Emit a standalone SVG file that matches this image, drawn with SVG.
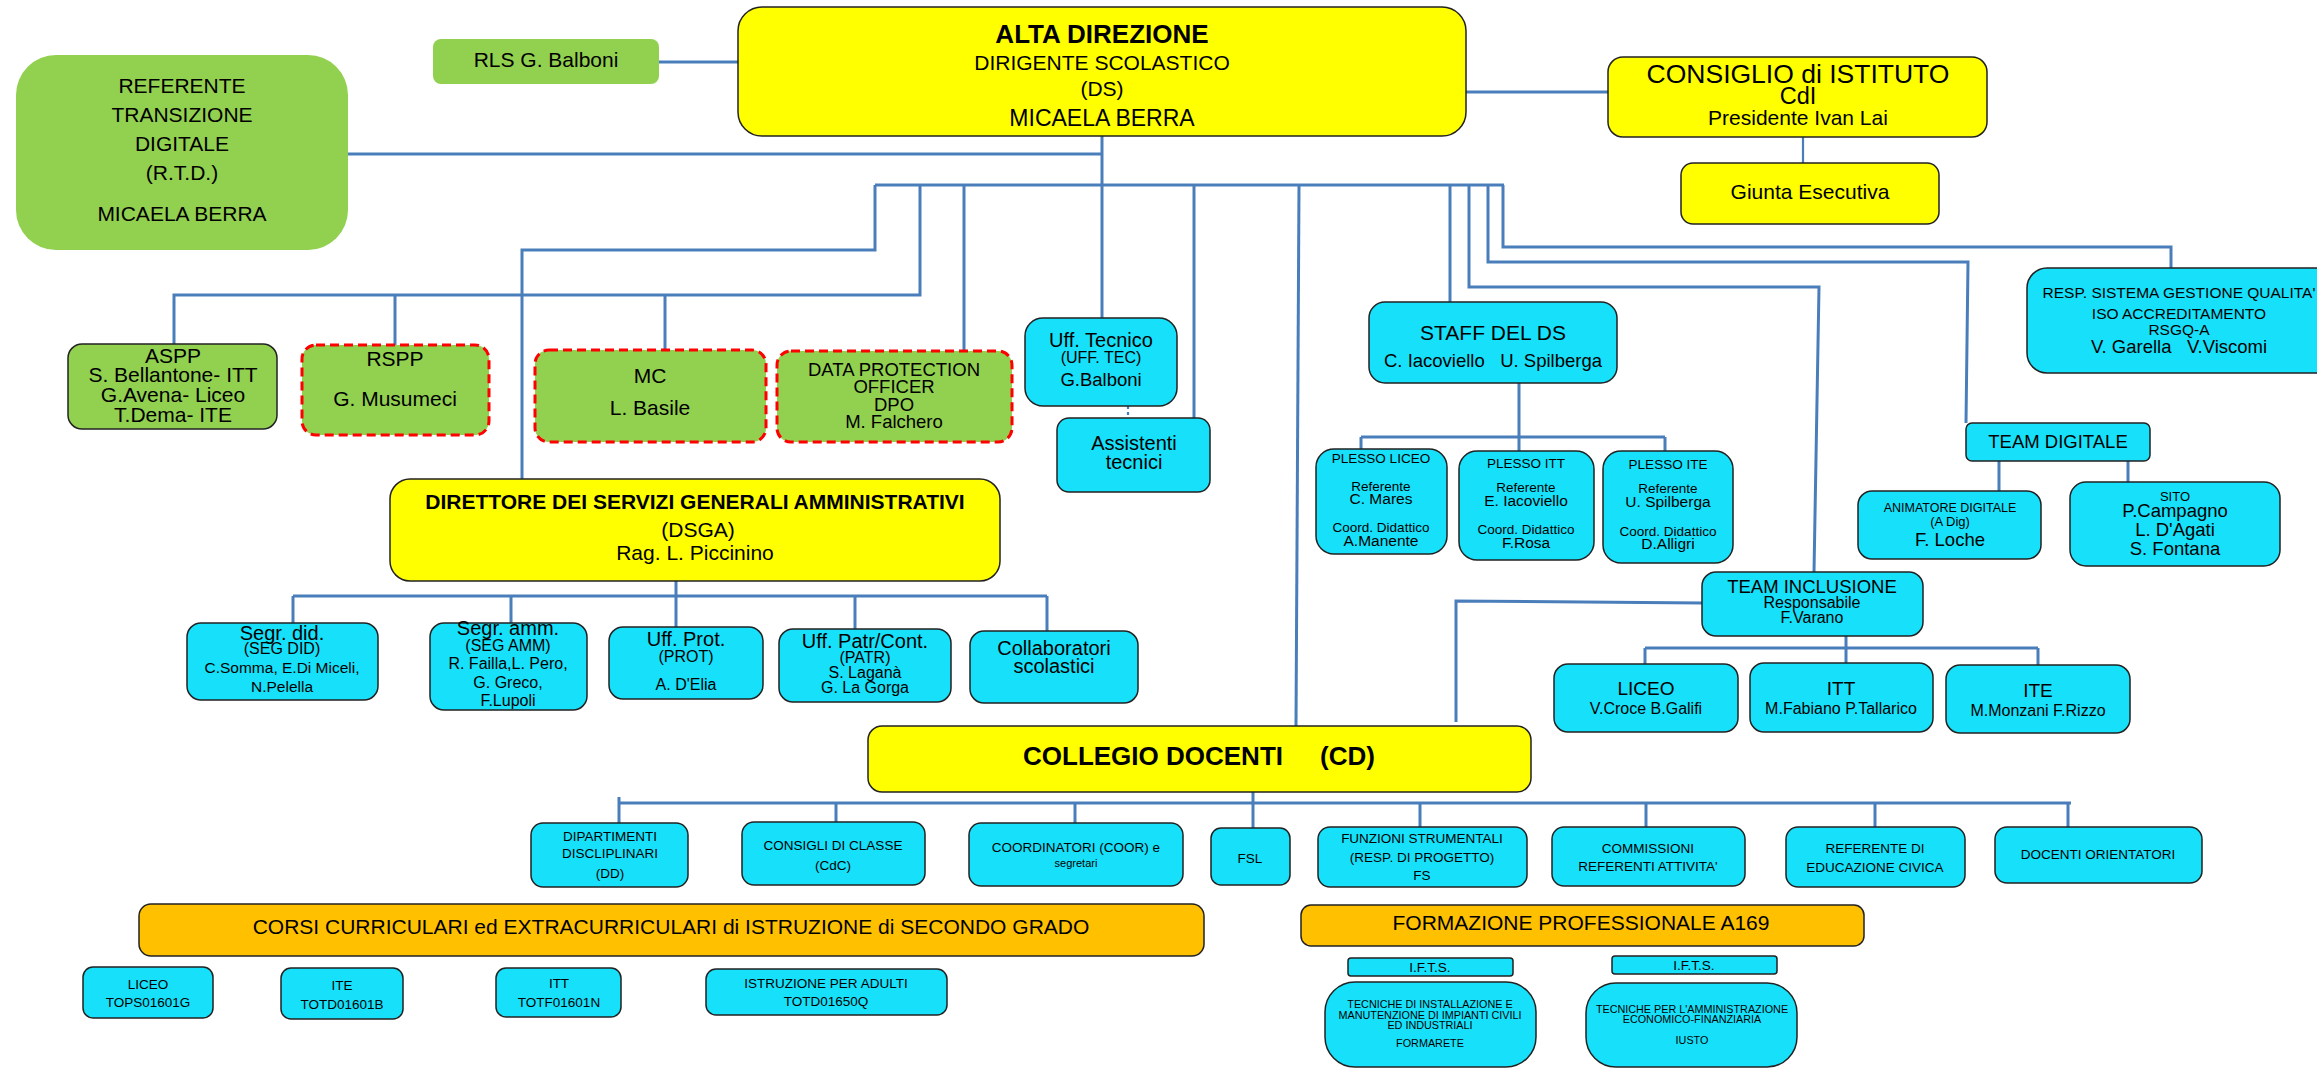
<svg xmlns="http://www.w3.org/2000/svg" width="2317" height="1068" viewBox="0 0 2317 1068">
<style>
text{font-family:'Liberation Sans',Arial,sans-serif;text-anchor:middle;fill:#000}
.b{font-weight:bold}
.bx{stroke:#222;stroke-width:1.5}
.y{fill:#FFFF00}
.g{fill:#92D050}
.c{fill:#16E0FA}
.o{fill:#FFC000}
.rd{stroke:#FF0000;stroke-width:3;stroke-dasharray:9 5}
.ln{stroke:#4A7EBB;stroke-width:3;fill:none}
.ln2{stroke:#4A7EBB;stroke-width:2.2;fill:none}
.pre{white-space:pre}
</style>
<rect width="2317" height="1068" fill="#fff"/>
<g id="connectors">
<path class="ln" d="M659 62H738"/>
<path class="ln" d="M1466 92H1608"/>
<path class="ln2" d="M1803 137V163"/>
<path class="ln" d="M1102 136V318"/>
<path class="ln" d="M348 154H1102"/>
<path class="ln" d="M875 185H1504"/>
<path class="ln" d="M875 185V250H522V479"/>
<path class="ln" d="M920 185V295H174V344"/>
<path class="ln" d="M395 295V345M665 295V350"/>
<path class="ln" d="M964 185V351"/>
<path class="ln" d="M1194 185V418"/>
<path class="ln2" d="M1128 406V418" stroke-dasharray="3 3"/>
<path class="ln" d="M1299 185L1296 726"/>
<path class="ln" d="M1450 185V302"/>
<path class="ln" d="M1469 185V287H1819L1814 572"/>
<path class="ln" d="M1488 185V262H1968L1966 423"/>
<path class="ln" d="M1503 185V247H2171V268"/>
<path class="ln" d="M1519 383V451M1361 437H1665M1361 437V449M1665 437V451"/>
<path class="ln" d="M1999 461V491M2128 461V482"/>
<path class="ln" d="M1702 603L1456 601V722"/>
<path class="ln" d="M1846 636V663M1645 648H2038M1645 648V664M2038 648V665"/>
<path class="ln" d="M676 581V627M293 596H1047M293 596V623M511 596V623M855 596V629M1047 596V631"/>
<path class="ln" d="M619 803H2071M619 797V823M1253 792V828M836 803V822M1075 803V823M1420 803V827M1646 803V827M1875 803V827M2068 803V827"/>
</g>
<g id="rtd"><rect x="16" y="55" width="332" height="195" rx="40" class="g"/>
<text x="182" y="93" font-size="21">REFERENTE</text><text x="182" y="122" font-size="21">TRANSIZIONE</text><text x="182" y="151" font-size="21">DIGITALE</text><text x="182" y="180" font-size="21">(R.T.D.)</text><text x="182" y="221" font-size="21">MICAELA BERRA</text></g>
<g id="rls"><rect x="433" y="39" width="226" height="45" rx="8" class="g"/><text x="546" y="67" font-size="21">RLS G. Balboni</text></g>
<g id="alta"><rect x="738" y="7" width="728" height="129" rx="24" class="y bx"/>
<text x="1102" y="43" font-size="26" class="b">ALTA DIREZIONE</text><text x="1102" y="70" font-size="21">DIRIGENTE SCOLASTICO</text><text x="1102" y="96" font-size="21">(DS)</text><text x="1102" y="126" font-size="23">MICAELA BERRA</text></g>
<g id="cdi"><rect x="1608" y="57" width="379" height="80" rx="15" class="y bx"/>
<text x="1798" y="83" font-size="26.5">CONSIGLIO di ISTITUTO</text><text x="1798" y="104" font-size="23.5">CdI</text><text x="1798" y="125" font-size="21">Presidente Ivan Lai</text></g>
<g id="giunta"><rect x="1681" y="163" width="258" height="61" rx="12" class="y bx"/><text x="1810" y="199" font-size="21">Giunta Esecutiva</text></g>
<g id="aspp"><rect x="68" y="344" width="209" height="85" rx="14" class="g bx"/>
<text x="173" y="363" font-size="21">ASPP</text><text x="173" y="382" font-size="21">S. Bellantone- ITT</text><text x="173" y="402" font-size="21">G.Avena- Liceo</text><text x="173" y="422" font-size="21">T.Dema- ITE</text></g>
<g id="rspp"><rect x="302" y="345" width="187" height="90" rx="14" class="g rd"/>
<text x="395" y="366" font-size="21">RSPP</text><text x="395" y="406" font-size="21">G. Musumeci</text></g>
<g id="mc"><rect x="535" y="350" width="231" height="92" rx="14" class="g rd"/>
<text x="650" y="383" font-size="21">MC</text><text x="650" y="415" font-size="21">L. Basile</text></g>
<g id="dpo"><rect x="777" y="351" width="235" height="91" rx="14" class="g rd"/>
<text x="894" y="376" font-size="18.5">DATA PROTECTION</text><text x="894" y="393" font-size="18.5">OFFICER</text><text x="894" y="411" font-size="18.5">DPO</text><text x="894" y="428" font-size="18.5">M. Falchero</text></g>
<g id="ufftec"><rect x="1025" y="318" width="152" height="88" rx="18" class="c bx"/>
<text x="1101" y="347" font-size="20">Uff. Tecnico</text><text x="1101" y="363" font-size="16">(UFF. TEC)</text><text x="1101" y="386" font-size="18.5">G.Balboni</text></g>
<g id="assistenti"><rect x="1057" y="418" width="153" height="74" rx="12" class="c bx"/>
<text x="1134" y="450" font-size="20">Assistenti</text><text x="1134" y="469" font-size="20">tecnici</text></g>
<g id="dsga"><rect x="390" y="479" width="610" height="102" rx="20" class="y bx"/>
<text x="695" y="509" font-size="21" class="b">DIRETTORE DEI SERVIZI GENERALI AMMINISTRATIVI</text><text x="698" y="537" font-size="21">(DSGA)</text><text x="695" y="560" font-size="21">Rag. L. Piccinino</text></g>
<g id="segdid"><rect x="187" y="623" width="191" height="77" rx="14" class="c bx"/>
<text x="282" y="640" font-size="20">Segr. did.</text><text x="282" y="654" font-size="16">(SEG DID)</text><text x="282" y="673" font-size="15.5">C.Somma, E.Di Miceli,</text><text x="282" y="692" font-size="15.5">N.Pelella</text></g>
<g id="segamm"><rect x="430" y="623" width="157" height="87" rx="14" class="c bx"/>
<text x="508" y="635" font-size="20">Segr. amm.</text><text x="508" y="651" font-size="16">(SEG AMM)</text><text x="508" y="669" font-size="16">R. Failla,L. Pero,</text><text x="508" y="688" font-size="16">G. Greco,</text><text x="508" y="706" font-size="16">F.Lupoli</text></g>
<g id="prot"><rect x="609" y="627" width="154" height="72" rx="14" class="c bx"/>
<text x="686" y="646" font-size="20">Uff. Prot.</text><text x="686" y="662" font-size="16">(PROT)</text><text x="686" y="690" font-size="16">A. D'Elia</text></g>
<g id="patr"><rect x="779" y="629" width="172" height="73" rx="14" class="c bx"/>
<text x="865" y="648" font-size="20">Uff. Patr/Cont.</text><text x="865" y="663" font-size="16">(PATR)</text><text x="865" y="678" font-size="16">S. Laganà</text><text x="865" y="693" font-size="16">G. La Gorga</text></g>
<g id="collab"><rect x="970" y="631" width="168" height="72" rx="14" class="c bx"/>
<text x="1054" y="655" font-size="20">Collaboratori</text><text x="1054" y="673" font-size="20">scolastici</text></g>
<g id="staff"><rect x="1369" y="302" width="248" height="81" rx="16" class="c bx"/>
<text x="1493" y="340" font-size="21">STAFF DEL DS</text><text x="1493" y="367" font-size="18.5" class="pre" xml:space="preserve">C. Iacoviello   U. Spilberga</text></g>
<g id="plesso-liceo"><rect x="1316" y="449" width="131" height="105" rx="18" class="c bx"/>
<text x="1381" y="463" font-size="13.5">PLESSO LICEO</text><text x="1381" y="491" font-size="13.5">Referente</text><text x="1381" y="504" font-size="15.5">C. Mares</text><text x="1381" y="532" font-size="13.5">Coord. Didattico</text><text x="1381" y="546" font-size="15.5">A.Manente</text></g>
<g id="plesso-itt"><rect x="1459" y="451" width="135" height="109" rx="18" class="c bx"/>
<text x="1526" y="468" font-size="13.5">PLESSO ITT</text><text x="1526" y="492" font-size="13.5">Referente</text><text x="1526" y="506" font-size="15.5">E. Iacoviello</text><text x="1526" y="534" font-size="13.5">Coord. Didattico</text><text x="1526" y="548" font-size="15.5">F.Rosa</text></g>
<g id="plesso-ite"><rect x="1603" y="451" width="130" height="112" rx="18" class="c bx"/>
<text x="1668" y="469" font-size="13.5">PLESSO ITE</text><text x="1668" y="493" font-size="13.5">Referente</text><text x="1668" y="507" font-size="15.5">U. Spilberga</text><text x="1668" y="536" font-size="13.5">Coord. Didattico</text><text x="1668" y="549" font-size="15.5">D.Alligri</text></g>
<g id="team-digitale"><rect x="1966" y="423" width="184" height="38" rx="6" class="c bx"/><text x="2058" y="448" font-size="18.5">TEAM DIGITALE</text></g>
<g id="animatore"><rect x="1858" y="491" width="183" height="68" rx="14" class="c bx"/>
<text x="1950" y="512" font-size="12.5">ANIMATORE DIGITALE</text><text x="1950" y="526" font-size="13">(A Dig)</text><text x="1950" y="546" font-size="18.5">F. Loche</text></g>
<g id="sito"><rect x="2070" y="482" width="210" height="84" rx="16" class="c bx"/>
<text x="2175" y="501" font-size="13">SITO</text><text x="2175" y="517" font-size="18.5">P.Campagno</text><text x="2175" y="536" font-size="18.5">L. D'Agati</text><text x="2175" y="555" font-size="18.5">S. Fontana</text></g>
<g id="rsgq"><rect x="2027" y="268" width="310" height="105" rx="20" class="c bx"/>
<text x="2179" y="298" font-size="15.5">RESP. SISTEMA GESTIONE QUALITA'</text><text x="2179" y="319" font-size="15.5">ISO ACCREDITAMENTO</text><text x="2179" y="335" font-size="15.5">RSGQ-A</text><text x="2179" y="353" font-size="18.5" class="pre" xml:space="preserve">V. Garella   V.Viscomi</text></g>
<g id="team-inclusione"><rect x="1702" y="572" width="221" height="64" rx="14" class="c bx"/>
<text x="1812" y="593" font-size="18.5">TEAM INCLUSIONE</text><text x="1812" y="608" font-size="16">Responsabile</text><text x="1812" y="623" font-size="16">F.Varano</text></g>
<g id="ti-liceo"><rect x="1554" y="664" width="184" height="68" rx="14" class="c bx"/>
<text x="1646" y="695" font-size="19">LICEO</text><text x="1646" y="714" font-size="16">V.Croce B.Galifi</text></g>
<g id="ti-itt"><rect x="1750" y="663" width="183" height="69" rx="14" class="c bx"/>
<text x="1841" y="695" font-size="19">ITT</text><text x="1841" y="714" font-size="16">M.Fabiano P.Tallarico</text></g>
<g id="ti-ite"><rect x="1946" y="665" width="184" height="68" rx="14" class="c bx"/>
<text x="2038" y="697" font-size="19">ITE</text><text x="2038" y="716" font-size="16">M.Monzani F.Rizzo</text></g>
<g id="collegio"><rect x="868" y="726" width="663" height="66" rx="14" class="y bx"/>
<text x="1023" y="765" font-size="26" class="b" style="text-anchor:start">COLLEGIO DOCENTI</text><text x="1320" y="765" font-size="26" class="b" style="text-anchor:start">(CD)</text></g>
<g id="dd"><rect x="531" y="823" width="157" height="64" rx="12" class="c bx"/>
<text x="610" y="841" font-size="13.5">DIPARTIMENTI</text><text x="610" y="858" font-size="13.5">DISCLIPLINARI</text><text x="610" y="878" font-size="13.5">(DD)</text></g>
<g id="cdc"><rect x="742" y="822" width="183" height="63" rx="12" class="c bx"/>
<text x="833" y="850" font-size="13.5">CONSIGLI DI CLASSE</text><text x="833" y="870" font-size="13.5">(CdC)</text></g>
<g id="coor"><rect x="969" y="823" width="214" height="63" rx="12" class="c bx"/>
<text x="1076" y="852" font-size="13.5">COORDINATORI (COOR) e</text><text x="1076" y="867" font-size="11">segretari</text></g>
<g id="fsl"><rect x="1211" y="828" width="79" height="57" rx="10" class="c bx"/><text x="1250" y="863" font-size="13.5">FSL</text></g>
<g id="fs"><rect x="1318" y="827" width="209" height="60" rx="12" class="c bx"/>
<text x="1422" y="843" font-size="13.5">FUNZIONI STRUMENTALI</text><text x="1422" y="862" font-size="13.5">(RESP. DI PROGETTO)</text><text x="1422" y="880" font-size="13.5">FS</text></g>
<g id="commissioni"><rect x="1552" y="827" width="193" height="59" rx="12" class="c bx"/>
<text x="1648" y="853" font-size="13.5">COMMISSIONI</text><text x="1648" y="871" font-size="13.5">REFERENTI ATTIVITA'</text></g>
<g id="civica"><rect x="1786" y="827" width="179" height="60" rx="12" class="c bx"/>
<text x="1875" y="853" font-size="13.5">REFERENTE DI</text><text x="1875" y="872" font-size="13.5">EDUCAZIONE CIVICA</text></g>
<g id="orientatori"><rect x="1995" y="827" width="207" height="56" rx="12" class="c bx"/><text x="2098" y="859" font-size="13.5">DOCENTI ORIENTATORI</text></g>
<g id="corsi"><rect x="139" y="904" width="1065" height="52" rx="12" class="o bx"/><text x="671" y="934" font-size="21">CORSI CURRICULARI ed EXTRACURRICULARI di ISTRUZIONE di SECONDO GRADO</text></g>
<g id="formazione"><rect x="1301" y="905" width="563" height="41" rx="10" class="o bx"/><text x="1581" y="930" font-size="21">FORMAZIONE PROFESSIONALE A169</text></g>
<g id="ifts1"><rect x="1348" y="958" width="165" height="18" rx="3" class="c bx"/><text x="1430" y="972" font-size="13.5">I.F.T.S.</text></g>
<g id="ifts2"><rect x="1612" y="956" width="165" height="18" rx="3" class="c bx"/><text x="1694" y="970" font-size="13.5">I.F.T.S.</text></g>
<g id="formarete"><rect x="1325" y="982" width="211" height="85" rx="30" class="c bx"/>
<text x="1430" y="1008" font-size="10.8">TECNICHE DI INSTALLAZIONE E</text><text x="1430" y="1019" font-size="10.8">MANUTENZIONE DI IMPIANTI CIVILI</text><text x="1430" y="1029" font-size="10.8">ED INDUSTRIALI</text><text x="1430" y="1047" font-size="10.8">FORMARETE</text></g>
<g id="iusto"><rect x="1586" y="983" width="211" height="84" rx="30" class="c bx"/>
<text x="1692" y="1013" font-size="10.8">TECNICHE PER L'AMMINISTRAZIONE</text><text x="1692" y="1023" font-size="10.8">ECONOMICO-FINANZIARIA</text><text x="1692" y="1044" font-size="10.8">IUSTO</text></g>
<g id="liceo"><rect x="83" y="967" width="130" height="51" rx="10" class="c bx"/><text x="148" y="989" font-size="13.5">LICEO</text><text x="148" y="1007" font-size="13.5">TOPS01601G</text></g>
<g id="ite"><rect x="281" y="968" width="122" height="51" rx="10" class="c bx"/><text x="342" y="990" font-size="13.5">ITE</text><text x="342" y="1009" font-size="13.5">TOTD01601B</text></g>
<g id="itt"><rect x="496" y="968" width="125" height="49" rx="10" class="c bx"/><text x="559" y="988" font-size="13.5">ITT</text><text x="559" y="1007" font-size="13.5">TOTF01601N</text></g>
<g id="adulti"><rect x="706" y="969" width="241" height="46" rx="10" class="c bx"/><text x="826" y="988" font-size="13.5">ISTRUZIONE PER ADULTI</text><text x="826" y="1006" font-size="13.5">TOTD01650Q</text></g>
</svg>
